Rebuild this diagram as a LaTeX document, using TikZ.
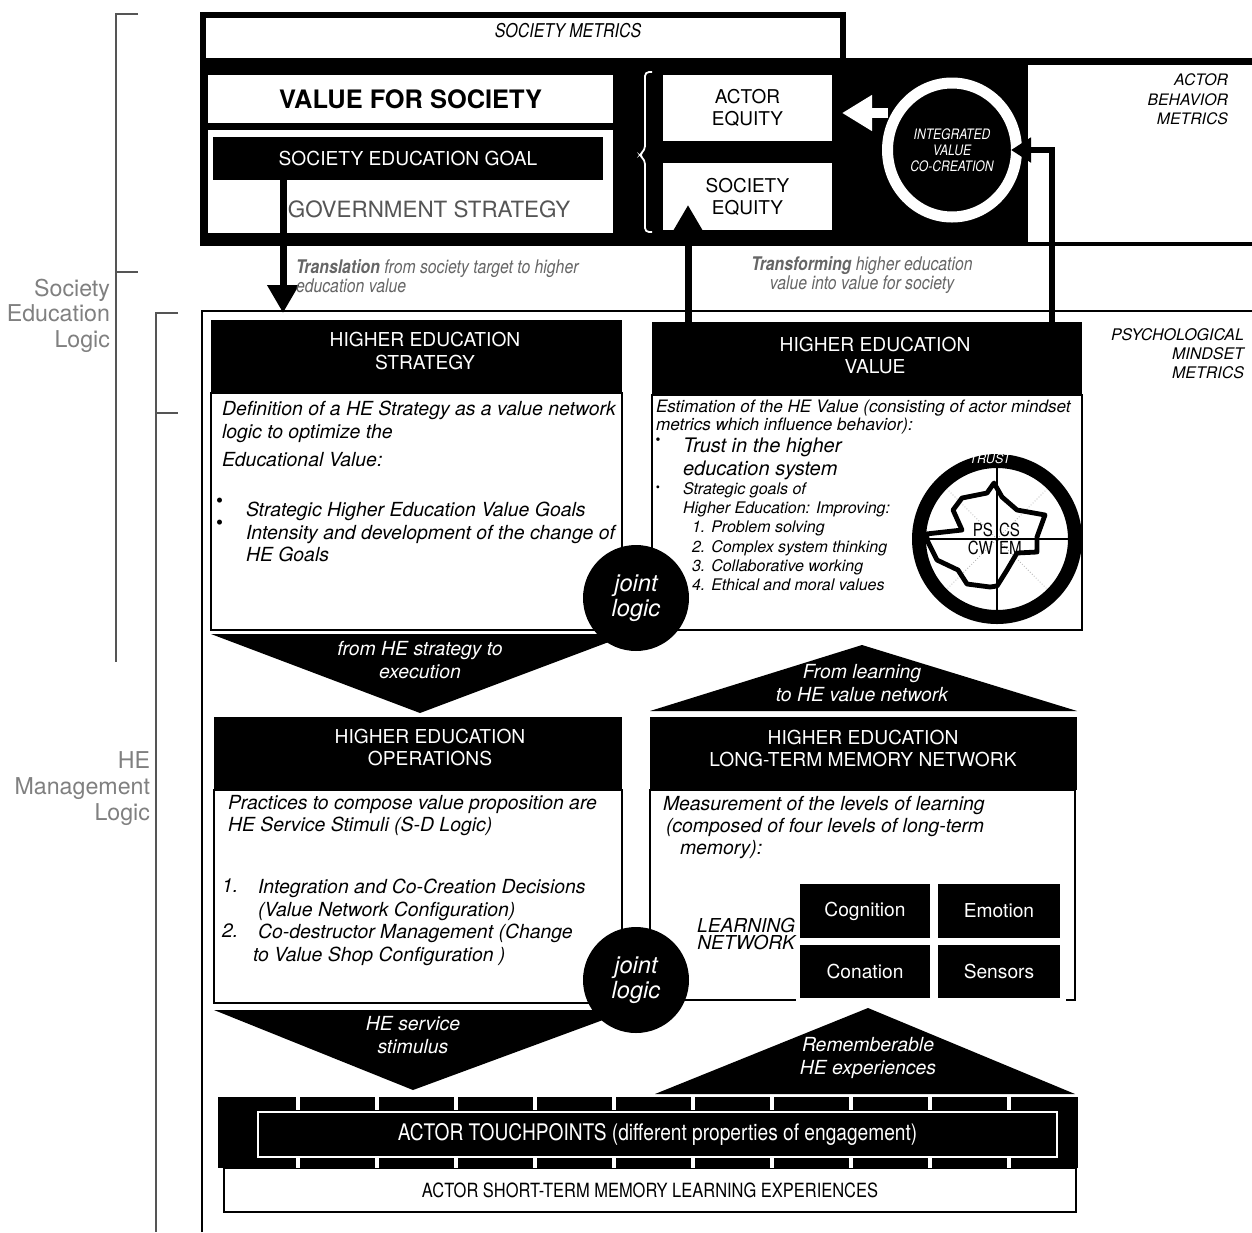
\documentclass[tikz,border=0pt]{standalone}
\usepackage{fontspec}
\setmainfont{TeX Gyre Heros}
\newfontfamily\narrowsf[FakeStretch=0.84]{TeX Gyre Heros}
\usetikzlibrary{arrows.meta,shapes.geometric}
\definecolor{labelgray}{HTML}{808080}
\definecolor{bracketgray}{HTML}{555555}
\definecolor{textgray}{HTML}{666666}
\definecolor{govgray}{HTML}{555555}
\newcommand\fsz[2]{\fontsize{#1}{#2}\selectfont}

\begin{document}
\begin{tikzpicture}[x=0.5pt,y=-0.5pt,
  every node/.style={inner sep=0pt,outer sep=0pt},
  panelbox/.style={rectangle,fill=white},
  darkbox/.style={rectangle,fill=black,text=white},
  framed/.style={rectangle,draw=black,line width=1pt,fill=white},
  hdrtxt/.style={text=white,align=center,font=\fsz{9.6}{11.25}},
  bodytxt/.style={anchor=north west,align=left,font=\itshape\fsz{9.7}{11.25}},
  sidetxt/.style={text=labelgray,anchor=north east,align=right,font=\fsz{11.6}{12.8}},
  metric/.style={anchor=north east,align=right,font=\itshape\fsz{7.9}{9.75}},
  jointnode/.style={circle,fill=black,text=white,minimum size=53pt,align=center,font=\itshape\fsz{11.8}{12.5}},
  trianglabel/.style={text=white,align=center,font=\itshape\fsz{9.7}{11.5}},
  learnbox/.style={rectangle,fill=black,text=white,font=\fsz{9.6}{11}},
  bracketline/.style={draw=bracketgray,line width=1.1pt},
  radarlbl/.style={font=\narrowsf\fsz{9}{9}},
]
\useasboundingbox (0,0) rectangle (1252,1232);
\fill[white] (0,0) rectangle (1252,1232);

% ---------- logic brackets on the left
\draw[bracketline] (138,14) -- (116,14) -- (116,662);
\draw[bracketline] (116,272) -- (138,272);
\node[sidetxt] (sel) at (110,279) {Society\\Education\\Logic};
\draw[bracketline] (178,313) -- (156,313) -- (156,1232);
\draw[bracketline] (156,413) -- (178,413);
\node[sidetxt] (hml) at (150,752) {HE\\Management\\Logic};

% ---------- society level panel
\node[rectangle,fill=black,minimum width=526pt,minimum height=94pt] (panel) at (726,152) {};
\node[rectangle,draw=black,line width=3pt,fill=white,minimum width=320pt,minimum height=23pt] (smbox) at (523,38) {};
\node[font=\narrowsf\itshape\fsz{9.5}{10}] (smtxt) at (568,31) {SOCIETY METRICS};

\node[panelbox,minimum width=202.5pt,minimum height=24pt,font=\bfseries\fsz{12.7}{14}] (vfs) at (410.5,99) {VALUE FOR SOCIETY};
\node[panelbox,minimum width=202.5pt,minimum height=51.5pt] (govbox) at (410.5,181.5) {};
\node[darkbox,minimum width=195pt,minimum height=21.5pt,font=\fsz{9.6}{11}] (goal) at (408,158.5) {SOCIETY EDUCATION GOAL};
\node[text=govgray,font=\fsz{11.2}{12}] (gov) at (429,209) {GOVERNMENT STRATEGY};

\draw[white,line width=0.9pt,rounded corners=2pt] (652,72) -- (645,72) -- (645,150) -- (639,155) -- (645,160) -- (645,232) -- (652,232);

\node[panelbox,minimum width=84.5pt,minimum height=33pt,align=center,font=\fsz{9.5}{11}] (aeq) at (747.5,108) {ACTOR\\EQUITY};
\node[panelbox,minimum width=84.5pt,minimum height=33.5pt,align=center,font=\fsz{9.5}{11}] (seq) at (747.5,196.5) {SOCIETY\\EQUITY};

\node[ellipse,draw=white,line width=5.5pt,minimum width=64.5pt,minimum height=67pt,align=center,text=white,font=\narrowsf\itshape\fsz{7.2}{8}] (ivc) at (952,150) {INTEGRATED\\VALUE\\CO-CREATION};
\coordinate (wa) at (888,113);
\draw[white,line width=5pt,shorten >=5pt,-{Triangle[length=15pt,width=17pt]}] (wa) -- (aeq.east |- wa);

\node[panelbox,minimum width=112pt,minimum height=88.5pt] (abm) at (1140,153.5) {};
\node[metric] (abmtxt) at (1228,74) {ACTOR\\BEHAVIOR\\METRICS};

% ---------- outer frame of the management level
\draw[line width=1pt] (202,1232) -- (202,311) -- (1252,311);
\node[metric,font=\itshape\fsz{8}{9.5}] (pmm) at (1244,329) {PSYCHOLOGICAL\\MINDSET\\METRICS};

% ---------- HE strategy
\node[framed,minimum width=205.5pt,minimum height=118.5pt] (hesb) at (416.5,511.5) {};
\node[rectangle,fill=black,minimum width=205.5pt,minimum height=36.5pt] (hes) at (416.5,356.5) {};
\node[hdrtxt] (hestxt) at (425,351) {HIGHER EDUCATION\\STRATEGY};
\node[bodytxt] (hest1) at (222,401) {Definition of a HE Strategy as a value network\\logic to optimize the};
\node[bodytxt] (hest2) at (222,452) {Educational Value:};
\node[bodytxt] (hest3) at (246,502) {Strategic Higher Education Value Goals\\Intensity and development of the change of\\HE Goals};
\node[anchor=north west,align=left,font=\fsz{10}{11.25}] (hesbul) at (216,498) {\textbullet\\\textbullet};

% ---------- HE value
\node[framed,minimum width=215pt,minimum height=117.5pt] (hevb) at (867,512.5) {};
\node[rectangle,fill=black,minimum width=215pt,minimum height=36.5pt] (hev) at (867,358.5) {};
\node[hdrtxt] (hevtxt) at (875,355.5) {HIGHER EDUCATION\\VALUE};
\node[bodytxt,font=\itshape\fsz{8.55}{9}] (hev1) at (656,400) {Estimation of the HE Value (consisting of actor mindset\\metrics which influence behavior):};
\node[bodytxt,font=\itshape\fsz{10}{11.5}] (hev2) at (683,438) {Trust in the higher\\education system};
\node[bodytxt,font=\itshape\fsz{8}{9.5}] (hev3) at (683,483) {Strategic goals of\\Higher Education: Improving:};
\node[bodytxt,font=\itshape\fsz{8}{9.7}] (hev4) at (692,521) {1. Problem solving\\2. Complex system thinking\\3. Collaborative working\\4. Ethical and moral values};
\node[font=\fsz{7}{7}] (hevbul1) at (658,441) {\textbullet};
\node[font=\fsz{6}{6}] (hevbul2) at (658,489) {\textbullet};

% radar of mindset metrics
\node[circle,draw=black,line width=7pt,minimum size=78pt,fill=white] (radar) at (997,539) {};
\draw[gray!60,densely dotted,line width=0.4pt,shorten >=3.5pt,shorten <=3.5pt] (radar.45) -- (radar.225);
\draw[gray!60,densely dotted,line width=0.4pt,shorten >=3.5pt,shorten <=3.5pt] (radar.135) -- (radar.315);
\draw[line width=0.9pt] (radar.north) -- (radar.south);
\draw[line width=0.9pt] (radar.west) -- (radar.east);
\draw[line width=2.4pt,line join=round] (994,483) -- (1002,497) -- (1017,510) -- (1045,515) -- (1037,537) -- (1037,552) -- (1017,553) -- (1007,570) -- (997,586) -- (990,587) -- (967,584) -- (958,570) -- (937,560) -- (928,542) -- (926,534) -- (962,530) -- (953,510) -- (962,498) -- (987,493) -- cycle;
\node[text=white,font=\itshape\fsz{6.3}{7}] (trust) at (990,459) {TRUST};
\node[radarlbl,anchor=east] (ps) at (993,530) {PS};
\node[radarlbl,anchor=west] (cs) at (999,530) {CS};
\node[radarlbl,anchor=east] (cw) at (993,548) {CW};
\node[radarlbl,anchor=west] (em) at (999,548) {EM};

% ---------- HE operations
\node[framed,minimum width=204pt,minimum height=106.5pt] (heob) at (418,896.5) {};
\node[rectangle,fill=black,minimum width=204pt,minimum height=36.5pt] (heo) at (418,753.5) {};
\node[hdrtxt] (heotxt) at (430,747.5) {HIGHER EDUCATION\\OPERATIONS};
\node[bodytxt] (heo1) at (228,795) {Practices to compose value proposition are\\HE Service Stimuli (S-D Logic)};
\node[bodytxt] (heon1) at (222,879) {1.};
\node[bodytxt] (heon2) at (222,924) {2.};
\node[bodytxt] (heo2) at (258,879) {Integration and Co-Creation Decisions\\(Value Network Configuration)\\Co-destructor Management (Change\\\hspace*{-2.5pt}to Value Shop Configuration )};

% ---------- HE long-term memory network
\node[framed,minimum width=212.5pt,minimum height=105pt] (ltmb) at (862.5,895) {};
\fill[white] (796,996) rectangle (1066,1004);
\node[rectangle,fill=black,minimum width=213.5pt,minimum height=36.5pt] (ltm) at (863.5,753.5) {};
\node[hdrtxt] (ltmtxt) at (863,748.5) {HIGHER EDUCATION\\LONG-TERM MEMORY NETWORK};
\node[bodytxt] (ltm1) at (663,796) {Measurement of the levels of learning};
\node[bodytxt] (ltm2) at (666,818) {(composed of four levels of long-term\\\hspace*{7pt}memory):};
\node[anchor=north east,align=right,font=\itshape\fsz{9.6}{8.5}] (lnet) at (795,918) {LEARNING\\NETWORK};
\node[learnbox,minimum width=65pt,minimum height=27pt] (cog) at (865,911) {Cognition};
\node[learnbox,minimum width=61pt,minimum height=27pt] (emo) at (999,911) {Emotion};
\node[learnbox,minimum width=65pt,minimum height=26.5pt] (con) at (865,971.5) {Conation};
\node[learnbox,minimum width=61pt,minimum height=26.5pt] (sen) at (999,971.5) {Sensors};

% ---------- flow arrows between the levels
\fill (211,634) -- (630,634) -- (420,713) -- cycle;
\node[trianglabel] (t1txt) at (420,660.5) {from HE strategy to\\execution};
\fill (650,711) -- (1077,711) -- (862,645) -- cycle;
\node[trianglabel] (t2txt) at (862,683.5) {From learning\\to HE value network};
\fill (214,1010) -- (630,1010) -- (413,1090) -- cycle;
\node[trianglabel] (t3txt) at (413,1035.5) {HE service\\stimulus};
\fill (655,1094) -- (1075,1094) -- (868,1008) -- cycle;
\node[trianglabel] (t4txt) at (868,1057.5) {Rememberable\\HE experiences};

\node[jointnode] (jl1) at (636,598) {joint\\logic};
\node[jointnode] (jl2) at (636,980) {joint\\logic};

% ---------- touchpoints and short-term memory
\node[framed,minimum width=426pt,minimum height=22pt,font=\narrowsf\fsz{9.8}{10}] (stm) at (650,1190) {ACTOR SHORT-TERM MEMORY LEARNING EXPERIENCES};
\node[rectangle,fill=black,minimum width=430pt,minimum height=35.5pt] (tpband) at (648,1132.5) {};
\foreach \k in {0,...,9} {
  \fill[white] (296+79*\k,1097) rectangle (300+79*\k,1110);
  \fill[white] (296+79*\k,1156) rectangle (300+79*\k,1168);
}
\node[rectangle,draw=white,line width=0.8pt,fill=black,minimum width=399.5pt,minimum height=22.5pt,text=white,font=\narrowsf\fsz{11.4}{12}] (tp) at (657.5,1134.5) {ACTOR TOUCHPOINTS (different properties of engagement)};

% ---------- translation between the levels
\coordinate (dax) at (283,0);
\draw[line width=3.5pt,shorten >=3.5pt,-{Triangle[length=14pt,width=15pt]}] (goal.south -| dax) -- (dax |- hes.north);
\coordinate (uax) at (688,0);
\draw[line width=3.5pt,shorten >=-12.5pt,-{Triangle[length=13pt,width=14pt]}] (hev.north -| uax) -- (uax |- seq.south);
\coordinate (abx) at (1052,0);
\draw[line width=3pt,shorten >=-2.75pt,-{Triangle[length=10pt,width=12pt]}] (hev.north -| abx) -- (abx |- ivc.east) -- (ivc.east);

\node[anchor=north west,align=left,text=textgray,font=\narrowsf\itshape\fsz{9.4}{9.5}] (transl) at (296,260) {\textbf{Translation} from society target to higher\\education value};
\node[align=center,text=textgray,font=\narrowsf\itshape\fsz{9.4}{9.5}] (transf) at (862,275.5) {\textbf{Transforming} higher education\\value into value for society};
\end{tikzpicture}
\end{document}
